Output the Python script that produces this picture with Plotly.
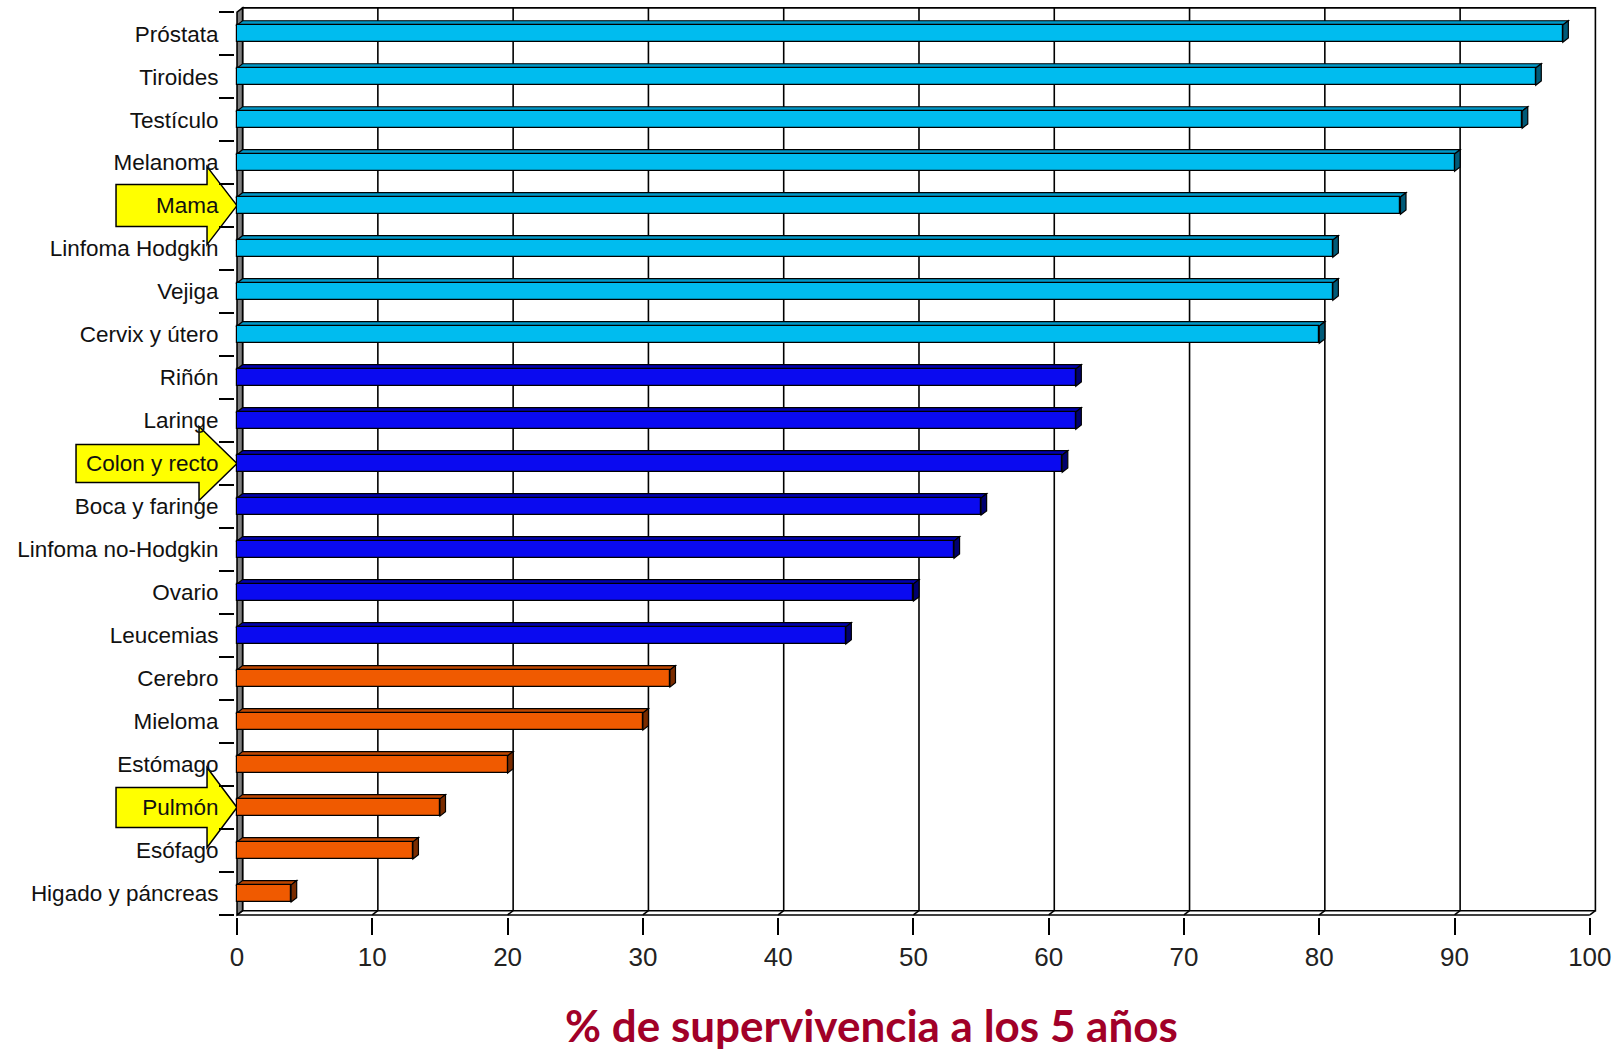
import plotly.graph_objects as go

# Supervivencia relativa a los 5 años por localización del cáncer
categories = [
    "Próstata", "Tiroides", "Testículo", "Melanoma", "Mama", "Linfoma Hodgkin",
    "Vejiga", "Cervix y útero", "Riñón", "Laringe", "Colon y recto",
    "Boca y faringe", "Linfoma no-Hodgkin", "Ovario", "Leucemias", "Cerebro",
    "Mieloma", "Estómago", "Pulmón", "Esófago", "Higado y páncreas",
]
survival = [98, 96, 95, 90, 86, 81, 81, 80, 62, 62, 61, 55, 53, 50, 45,
            32, 30, 20, 15, 13, 4]
groups = ["alta"] * 8 + ["media"] * 7 + ["baja"] * 6
highlighted = ["Mama", "Colon y recto", "Pulmón"]
x_ticks = list(range(0, 101, 10))
x_title = "% de supervivencia a los 5 años"

# colours: front face, top face, side face
palette = {
    "alta": ("#00BCEF", "#0098C8", "#005A78"),
    "media": ("#0A0AF0", "#0000B0", "#00006E"),
    "baja": ("#F05A00", "#BE4600", "#7A2C00"),
}

n = len(categories)
pos = list(range(n))
bar_w = 0.4
ddx = 0.41     # depth of the 3D effect along x (data units)
ddy = 0.10     # depth of the 3D effect along y (category units)
x_range = [-0.15, 100.75]
y_range = [n - 0.5 + 0.047, -0.5 - ddy - 0.043]
x_max = x_ticks[-1]
y_bot = n - 0.5
y_top = -0.5

M_L, M_R, M_T, M_B = 235, 17, 6, 140
plot_w = 1617 - M_L - M_R
plot_h = 1057 - M_T - M_B

fig = go.Figure()
fig.add_trace(go.Bar(
    x=survival, y=pos, orientation="h", width=bar_w,
    marker=dict(color=[palette[g][0] for g in groups],
                line=dict(color="#000000", width=1.2)),
    hovertext=categories, hoverinfo="text+x",
))

shapes = []
frame_line = dict(color="#000000", width=1.6)

# back wall
shapes.append(dict(type="rect", xref="x", yref="y", layer="below",
                   x0=ddx, x1=x_max + ddx, y0=y_top - ddy, y1=y_bot - ddy,
                   fillcolor="#FFFFFF", line=frame_line))
# vertical gridlines on the back wall
for t in x_ticks[1:-1]:
    shapes.append(dict(type="line", xref="x", yref="y", layer="below",
                       x0=t + ddx, x1=t + ddx, y0=y_bot - ddy, y1=y_top - ddy,
                       line=frame_line))
# floor: front edge and the small diagonals at each tick
shapes.append(dict(type="line", xref="x", yref="y", layer="below",
                   x0=0, x1=x_max, y0=y_bot, y1=y_bot, line=frame_line))
for t in x_ticks:
    shapes.append(dict(type="line", xref="x", yref="y", layer="below",
                       x0=t, x1=t + ddx, y0=y_bot, y1=y_bot - ddy,
                       line=frame_line))
# left side wall
shapes.append(dict(
    type="path", xref="x", yref="y", layer="below",
    path=f"M 0,{y_bot} L 0,{y_top} L {ddx},{y_top - ddy} L {ddx},{y_bot - ddy} Z",
    fillcolor="#7F7F7F", line=frame_line))

# top and side faces of every bar
for p, v, g in zip(pos, survival, groups):
    yt = p - bar_w / 2
    yb = p + bar_w / 2
    _, top_c, side_c = palette[g]
    shapes.append(dict(
        type="path", xref="x", yref="y", layer="below",
        path=f"M 0,{yt} L {v},{yt} L {v + ddx},{yt - ddy} L {ddx},{yt - ddy} Z",
        fillcolor=top_c, line=dict(color="#000000", width=1.2)))
    shapes.append(dict(
        type="path", xref="x", yref="y", layer="below",
        path=f"M {v},{yt} L {v + ddx},{yt - ddy} L {v + ddx},{yb - ddy} L {v},{yb} Z",
        fillcolor=side_c, line=dict(color="#000000", width=1.2)))

# yellow block arrows pointing at the highlighted categories
arrow_geom = {
    "Mama": (121, 30, 21, 39),
    "Colon y recto": (161, 38, 19, 37),
    "Pulmón": (121, 30, 20, 40),
}
x0_paper = (0 - x_range[0]) / (x_range[1] - x_range[0])
for name in highlighted:
    i = categories.index(name)
    y_paper = (y_range[0] - i) / (y_range[0] - y_range[1])
    body, head, bh, hh = arrow_geom[name]
    path = (f"M 0,0 L {-head},{hh} L {-head},{bh} L {-body},{bh} "
            f"L {-body},{-bh} L {-head},{-bh} L {-head},{-hh} Z")
    shapes.append(dict(
        type="path", xref="paper", yref="paper", layer="below",
        xsizemode="pixel", ysizemode="pixel",
        xanchor=x0_paper, yanchor=y_paper, path=path,
        fillcolor="#FFFF00", line=dict(color="#000000", width=1.5)))

fig.update_layout(
    width=1617, height=1057,
    margin=dict(l=M_L, r=M_R, t=M_T, b=M_B, pad=0),
    paper_bgcolor="#FFFFFF", plot_bgcolor="rgba(0,0,0,0)",
    showlegend=False, bargap=0,
    shapes=shapes,
    font=dict(family="Liberation Sans, Arial, sans-serif", color="#111111"),
    xaxis=dict(
        range=x_range, tickmode="array", tickvals=x_ticks,
        ticks="outside", ticklen=17, tickwidth=1.6, tickcolor="#000000",
        tickfont=dict(size=26, color="#222222"),
        showgrid=False, zeroline=False, showline=False, fixedrange=True,
    ),
    yaxis=dict(
        range=y_range, tickmode="array", tickvals=pos, ticktext=categories,
        ticks="outside", ticklen=11, tickcolor="rgba(0,0,0,0)",
        tickfont=dict(size=22.5, color="#111111"),
        minor=dict(tickmode="array",
                   tickvals=[p - 0.5 for p in pos] + [n - 0.5],
                   ticks="outside", ticklen=15, tickwidth=1.6,
                   tickcolor="#000000", showgrid=False),
        showgrid=False, zeroline=False, showline=False, fixedrange=True,
    ),
    annotations=[dict(
        text=x_title, xref="paper", yref="paper",
        x=(871 - M_L) / plot_w, y=-(1025 - (M_T + plot_h)) / plot_h,
        xanchor="center", yanchor="middle", showarrow=False,
        font=dict(family="Comic Sans MS, Lato, sans-serif", size=44,
                  color="#A10028", weight=700),
    )],
)

fig.write_html("out.html")
